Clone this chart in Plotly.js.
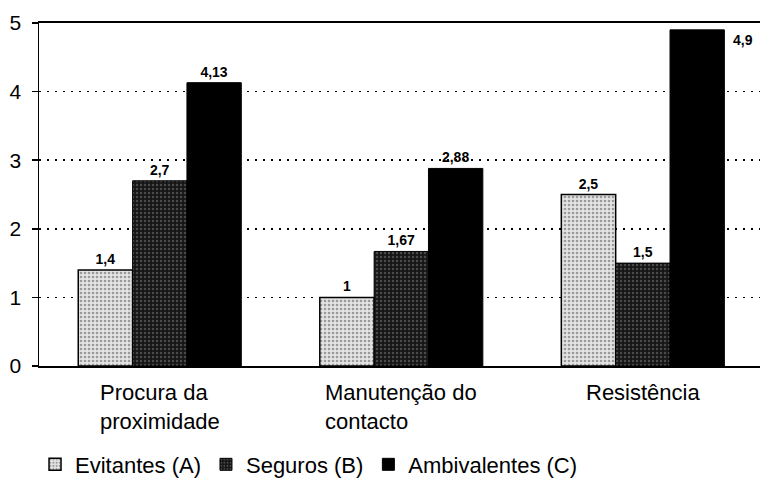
<!DOCTYPE html>
<html>
<head>
<meta charset="utf-8">
<script src="https://cdn.plot.ly/plotly-3.0.1.min.js"></script>
<style>html,body{margin:0;padding:0;background:#fff;}#chart{width:760px;height:486px;}</style>
</head>
<body>
<div id="chart"></div>
<script>
// ---- data ----
const categories = ['Procura da proximidade', 'Manutenção do contacto', 'Resistência'];
const categoryLabels = ['Procura da<br>proximidade', 'Manutenção do<br>contacto', 'Resistência'];
const seriesNames = ['Evitantes (A)', 'Seguros (B)', 'Ambivalentes (C)'];
const evitantes = [1.4, 1, 2.5];
const seguros = [2.7, 1.67, 1.5];
const ambivalentes = [4.13, 2.88, 4.9];
const yTickValues = [0, 1, 2, 3, 4, 5];

// ---- style ----
const FONT = 'Liberation Sans, Arial, Helvetica, sans-serif';
const BARGAP = 0.325;
const fmt = v => String(v).replace('.', ',');

const labelFont = {family: FONT, size: 14, color: '#000', weight: 'bold'};

const traces = [
  {
    type: 'bar', name: seriesNames[0], x: categories, y: evitantes,
    text: evitantes.map(fmt), textposition: 'outside', textfont: labelFont,
    cliponaxis: false, hoverinfo: 'skip',
    marker: {
      color: '#dcdcdc',
      line: {color: '#000', width: 1.5},
      pattern: {shape: '.', bgcolor: '#e4e4e4', fgcolor: '#9a9a9a', size: 4, solidity: 0.35}
    }
  },
  {
    type: 'bar', name: seriesNames[1], x: categories, y: seguros,
    text: seguros.map(fmt), textposition: 'outside', textfont: labelFont,
    cliponaxis: false, hoverinfo: 'skip',
    marker: {
      color: '#1a1a1a',
      line: {color: '#000', width: 1},
      pattern: {shape: '.', bgcolor: '#161616', fgcolor: '#4a4a4a', size: 4, solidity: 0.3}
    }
  },
  {
    type: 'bar', name: seriesNames[2], x: categories, y: ambivalentes,
    text: ambivalentes.map(fmt),
    textposition: ambivalentes.map(v => v > 4.5 ? 'none' : 'outside'),
    textfont: labelFont, cliponaxis: false, hoverinfo: 'skip',
    marker: {color: '#000', line: {color: '#000', width: 1}}
  }
];

// per-bar width in category units
const barW = (1 - BARGAP) / 3;

const annotations = [];
// category labels (left-aligned lines, block centred on the category)
categories.forEach((c, i) => {
  annotations.push({
    xref: 'x', yref: 'paper', x: i, y: -0.034,
    xanchor: 'center', yanchor: 'top', align: 'left', showarrow: false,
    text: categoryLabels[i],
    font: {family: FONT, size: 22, color: '#000'}
  });
});
// label for the tallest bar, placed to its right (no room above)
ambivalentes.forEach((v, i) => {
  if (v > 4.5) {
    annotations.push({
      xref: 'x', yref: 'y', x: i + barW + barW / 2, y: v,
      xanchor: 'left', yanchor: 'top', xshift: 7, showarrow: false,
      text: fmt(v), font: labelFont
    });
  }
});

const layout = {
  width: 760, height: 486,
  margin: {l: 39, r: 0, t: 23, b: 114, pad: 0},
  paper_bgcolor: '#fff', plot_bgcolor: '#fff',
  font: {family: FONT, color: '#000'},
  barmode: 'group', bargap: BARGAP, bargroupgap: 0,
  showlegend: true,
  legend: {
    orientation: 'h', x: -0.0055, xanchor: 'left', y: -0.226, yanchor: 'top',
    font: {family: FONT, size: 22, color: '#000'},
    itemgap: 15, bgcolor: 'rgba(0,0,0,0)', traceorder: 'normal'
  },
  xaxis: {
    type: 'category', range: [-0.5, 2.485],
    showticklabels: false, ticks: '',
    showline: true, linecolor: '#000', linewidth: 2, mirror: true,
    showgrid: false, zeroline: false, fixedrange: true
  },
  yaxis: {
    range: [0, 5], tickvals: yTickValues, ticktext: yTickValues.map(String),
    ticks: 'outside', ticklen: 6, tickwidth: 1.5, tickcolor: '#000',
    ticklabelstandoff: 6,
    tickfont: {family: FONT, size: 21, color: '#000'},
    showline: true, linecolor: '#000', linewidth: 1.5, mirror: false,
    showgrid: true, gridcolor: '#000', gridwidth: 1.5, griddash: '2px,6px',
    zeroline: false, fixedrange: true
  },
  annotations: annotations
};

Plotly.newPlot('chart', traces, layout, {staticPlot: true, displayModeBar: false});
</script>
</body>
</html>
